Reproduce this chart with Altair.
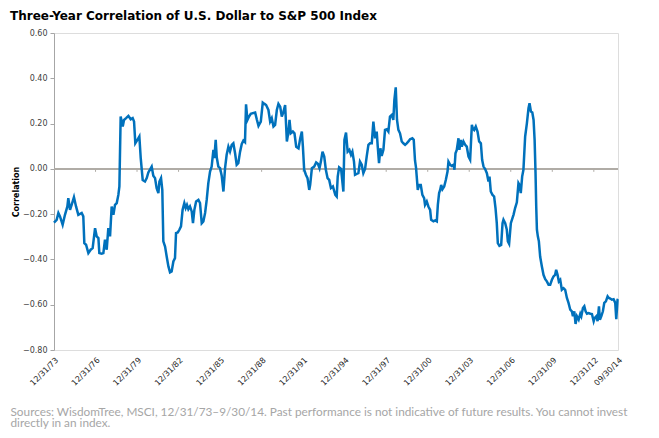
import altair as alt
import pandas as pd

# month offsets from 12/31/1973 and correlation values
months = [0, 2.3, 3.8, 5.2, 7.5, 9.5, 11.6, 12.4, 13.9, 15.3, 17.3, 19.1, 21.1, 24, 25.4, 26.3, 27.8, 29.8,
          31.8, 33.5, 35.6, 37, 38.5, 39.3, 41.3, 42.8, 44.2, 45.7, 47.1, 48.6, 50, 51.5, 52.9, 54.4, 55.8,
          56.7, 57.8, 59.6, 60.7, 62.5, 64.5, 66.5, 68.2, 69.4, 70.5, 72.3, 74, 75.2, 76.9, 78.9,
          80.4, 81.8, 84.7, 86.1, 87.6, 89, 90.5, 91.4, 92.8, 93.9, 94.8, 96.3, 97.7, 99.2, 100.6, 102,
          103.5, 104.9, 105.8, 107.3, 108.7, 110.1, 111.5, 113, 114.2, 115.3, 116.5, 117.9, 119.4, 120.5,
          121.7, 123.2, 125.2, 126.6, 128.1, 129.5, 131, 132.4, 133.8, 135.3, 136.7, 138.2, 139, 140.2,
          141.1, 142.5, 144, 145.4, 146.9, 148.3, 149.7, 151.2, 152.6, 154.1, 155.5, 157, 158.4, 159.8,
          161.3, 162.8, 164.2, 165.6, 166.5,
          167.7, 169.1, 170.6, 172.4, 174.4, 175.8, 177.3, 179.3, 181, 182.5, 183.9, 185.9, 187.4, 188.8,
          190.3, 191.7, 193.2, 194.6, 196.1, 197.5, 199, 200.4, 201.9, 203.3, 204.2, 205.3, 207.1, 208.5,
          210, 212, 213.5, 214.9, 215.8, 216.9, 218.4, 219.8, 221.3, 222.1, 223.6, 225.6, 227.3, 228.8,
          230.2, 231.4, 232.8, 234.3, 235.7, 237.2, 238.6, 240.1, 241.8, 243.9,
          245.1, 246, 247.2, 248.9, 250.9, 251.8, 253.2, 254.6, 256.1, 257.5, 258.7, 260.1, 261, 262.4,
          263.9, 265.3, 266.8, 268.2, 269.7, 271.1, 272.6, 274, 275.5, 276.9, 278.4, 279.8, 280.7, 281.8,
          283, 284.1, 285.6, 287, 288.5, 289.9, 291.3, 292.8, 294.2, 295.1, 296.3, 297.4, 298.6, 300,
          301.5, 302.9, 304.4, 305.8, 307.3, 308.7, 310.7, 311.9, 313, 313.9, 315.4, 316.5, 318, 319.4,
          320.9, 321.7, 323.2, 324.6, 326.1, 327, 329, 330.5, 331.9,
          332.8, 333.9, 334.8, 335.7, 336.8, 338.3, 339.7, 341.2, 342, 343.5, 344.9, 346.4, 347.2, 348.1,
          349.2, 350.7, 351.5, 352.7, 353.6, 355, 356.5, 357.9, 359.4, 360.8, 362.3, 363.1, 364.3, 365.7,
          367.2, 368.6, 370.1, 371.2, 372.4, 373.8, 375.3, 376.7, 377.6, 378.7, 380.2, 381.6, 382.8,
          383.9, 384.8, 386.2, 387.7, 388.9, 389.7, 391.2, 392.6, 393.5, 394.6, 396.1, 397.5, 398.4,
          399.8, 401.3, 402.7, 403.6, 404.7, 405.9, 407,
          408.5, 410, 411.4, 412.3, 413.5, 414.7, 415.8, 416.7, 417.5, 418.1, 418.7, 419.5, 420.4, 421.5,
          423, 424.4, 425.9, 427.3, 428.8, 430.2, 431.7, 433.1, 434.5, 435.4, 436.6, 437.7, 438.9, 440.3,
          441.8, 443.2, 444.7, 446.1, 447.6, 449, 449.9, 451.1, 452.2, 453.4, 454.9, 456.3, 457.2, 458.6,
          459.8, 460.9, 462.1, 463.5, 465, 466.4, 467.9, 468.7, 470.2, 471.3, 472.5, 473.3, 474.5, 475.9,
          477.1, 478.5, 480, 481.1, 482.3, 483.7, 485.2, 486.6, 487.5, 488.6, 489]

values = [-0.237, -0.225, -0.195, -0.21, -0.247, -0.203, -0.166, -0.129, -0.181, -0.159, -0.125, -0.166,
          -0.203, -0.195, -0.21, -0.328, -0.335, -0.372, -0.357, -0.35, -0.262, -0.298, -0.306, -0.372,
          -0.375, -0.372, -0.313, -0.357, -0.262, -0.298, -0.166, -0.203, -0.159, -0.151, -0.115, -0.078,
          0.231, 0.187, 0.216, 0.224, 0.234, 0.219, 0.224, 0.209, 0.113, 0.128, 0.143, 0.047, -0.049, -0.056,
          -0.041, -0.016, 0.01, -0.03, -0.041, -0.085, -0.107, -0.056, -0.041, -0.093, -0.32, -0.343, -0.387,
          -0.431, -0.457, -0.453, -0.409, -0.394, -0.284, -0.281, -0.269, -0.254, -0.181, -0.151, -0.173,
          -0.159, -0.178, -0.166, -0.188, -0.24, -0.181, -0.144, -0.137, -0.151, -0.24, -0.232, -0.195,
          -0.137, -0.063, -0.012, 0.01, 0.084, 0.047, 0.128, 0.051, 0.01, 0.003, -0.03, -0.1, 0.003, 0.062,
          0.098, 0.077, 0.106, 0.113, 0.069, 0.018, 0.025, 0.075, 0.11, 0.125, 0.118, 0.285,
          0.216, 0.231, 0.243, 0.246, 0.249, 0.219, 0.19, 0.209, 0.293, 0.287, 0.282, 0.26, 0.209, 0.224,
          0.187, 0.194, 0.26, 0.287, 0.275, 0.231, 0.253, 0.282, 0.121, 0.165, 0.216, 0.157, 0.165, 0.157,
          0.098, 0.091, 0.135, 0.165, 0.098, -0.004, -0.026, -0.041, -0.093, -0.071, 0.003, 0.01, 0.028,
          0.022, 0.003, 0.032, 0.076, 0.054, -0.004, -0.041, -0.049, -0.085, -0.078, -0.115,
          -0.122, -0.034, 0.007, 0.0, -0.1, 0.128, 0.16, 0.076, 0.084, 0.062, 0.076, 0.032, -0.026, -0.022,
          -0.019, 0.032, 0.018, -0.019, 0.0, 0.054, 0.106, 0.113, 0.113, 0.209, 0.135, 0.165, 0.098, 0.025,
          0.091, 0.057, 0.084, 0.172, 0.175, 0.165, 0.231, 0.238, 0.216, 0.304, 0.36, 0.216, 0.172, 0.157,
          0.121, 0.113, 0.106, 0.113, 0.121, 0.131, 0.135, 0.128, 0.037, 0.004, -0.093, -0.071, -0.071,
          -0.115, -0.129, -0.159, -0.144, -0.166, -0.181, -0.225, -0.232, -0.228, -0.232,
          -0.159, -0.107, -0.093, -0.071, -0.09, -0.078, -0.049, -0.012, 0.032, 0.018, 0.013, 0.018, -0.004,
          0.069, 0.084, 0.135, 0.084, 0.128, 0.098, 0.121, 0.106, 0.098, 0.054, 0.04, 0.194, 0.179, 0.172,
          0.187, 0.165, 0.121, 0.113, 0.04, 0.01, -0.001, -0.019, -0.056, -0.034, -0.1, -0.115, -0.122,
          -0.173, -0.24, -0.328, -0.34, -0.336, -0.24, -0.225, -0.24, -0.269, -0.32, -0.331, -0.24, -0.218,
          -0.203, -0.173, -0.148, -0.063, -0.071, -0.107, -0.034, -0.004,
          0.143, 0.201, 0.268, 0.29, 0.253, 0.249, 0.216, 0.128, -0.019, -0.166, -0.269, -0.298, -0.32,
          -0.387, -0.431, -0.468, -0.487, -0.497, -0.512, -0.512, -0.49, -0.475, -0.468, -0.446, -0.468,
          -0.497, -0.49, -0.534, -0.527, -0.534, -0.57, -0.592, -0.622, -0.629, -0.651, -0.629, -0.685,
          -0.651, -0.666, -0.64, -0.651, -0.615, -0.607, -0.629, -0.64, -0.637, -0.64, -0.641, -0.673,
          -0.659, -0.651, -0.673, -0.607, -0.666, -0.651, -0.629, -0.592, -0.585, -0.563, -0.57, -0.573,
          -0.578, -0.576, -0.592, -0.664, -0.578, -0.575]

label_years = [1973, 1976, 1979, 1982, 1985, 1988, 1991, 1994, 1997, 2000, 2003, 2006, 2009, 2012]
tick_years = [1976, 1979, 1982, 1985, 1988, 1991, 1994, 1997, 2000, 2003, 2006, 2009, 2012]
y_ticks = [0.6, 0.4, 0.2, 0.0, -0.2, -0.4, -0.6, -0.8]

title_text = "Three-Year Correlation of U.S. Dollar to S&P 500 Index"
footnote = ["Sources: WisdomTree, MSCI, 12/31/73\u20139/30/14. Past performance is not indicative of future results. You cannot invest",
            "directly in an index."]

start = pd.Timestamp("1973-12-31")
end = pd.Timestamp("2014-09-30")
span_days = (end - start).days
dates = [start + pd.Timedelta(hours=round(m / 489 * span_days * 24)) for m in months]
df = pd.DataFrame({"date": dates, "value": values})
ticks_df = pd.DataFrame({"date": [pd.Timestamp(year=y, month=12, day=31) for y in tick_years]})
title_df = pd.DataFrame({"label": [title_text]})

label_values = [alt.DateTime(year=y, month=12, date=31) for y in label_years] + [alt.DateTime(year=2014, month=9, date=30)]

x_scale = alt.Scale(domain=[alt.DateTime(year=1973, month=12, date=31), alt.DateTime(year=2014, month=9, date=30)])
y_scale = alt.Scale(domain=[-0.8, 0.6], nice=False, zero=False)

line = alt.Chart(df).mark_line(color="#0071BC", strokeWidth=2.5, clip=False).encode(
    x=alt.X("date:T", scale=x_scale,
            axis=alt.Axis(values=label_values, format="%m/%d/%y", labelAngle=-45, domain=False, ticks=False,
                          grid=False, labelFont="DejaVu Sans", labelFontSize=8, labelColor="#262626",
                          labelPadding=6, labelOverlap=False, labelFlush=False,
                          title=footnote, titleX=-44, titleY=65.5, titleAlign="left", titleAnchor="start",
                          titleAngle=0, titleBaseline="alphabetic", titleFont="Lato", titleFontSize=11.8,
                          titleFontWeight="normal", titleColor="#a6a6a6", titleLineHeight=10.5)),
    y=alt.Y("value:Q", scale=y_scale,
            axis=alt.Axis(values=y_ticks, format=".2f", grid=False, domainColor="#a6a6a6", tickColor="#a6a6a6",
                          tickSize=4, labelFont="DejaVu Sans", labelFontSize=8, labelColor="#404040",
                          labelPadding=3, title="Correlation", titleFont="DejaVu Sans", titleFontSize=8,
                          titleFontWeight="bold", titleColor="#000000", titlePadding=2)),
)

zero_rule = alt.Chart(df).mark_rule(color="#b0aca6", strokeWidth=1.5).encode(y=alt.datum(0))

zero_ticks = alt.Chart(ticks_df).mark_rule(color="#b0aca6", strokeWidth=1, y2Offset=3).encode(
    x=alt.X("date:T"), y=alt.datum(0), y2=alt.datum(0))

title_mark = alt.Chart(title_df).mark_text(
    align="left", baseline="alphabetic", font="DejaVu Sans", fontSize=12, fontWeight="bold",
    color="#000000").encode(text="label:N", x=alt.value(-44), y=alt.value(-13.5))

chart = alt.layer(zero_rule, zero_ticks, line, title_mark).properties(
    width=564, height=317,
    autosize=alt.AutoSizeParams(type="none"),
    padding={"left": 46, "top": 25, "right": 33, "bottom": 79},
).configure_view(stroke=None).configure(background="white")

chart.save("out.html", embed_options={"renderer": "svg", "actions": False})
